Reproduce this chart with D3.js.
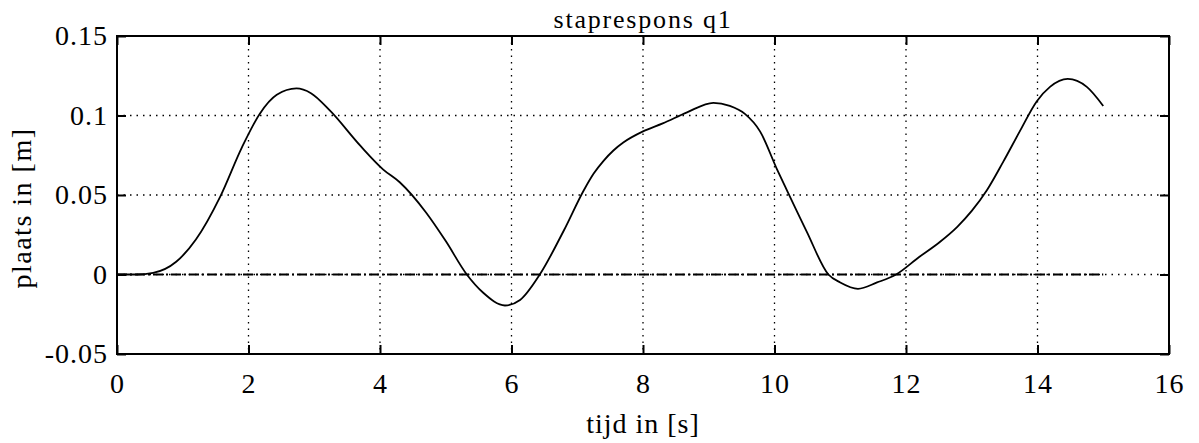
<!DOCTYPE html>
<html>
<head>
<meta charset="utf-8">
<script src="https://cdn.jsdelivr.net/npm/d3@7"></script>
<style>
  body { margin: 0; background: #fff; }
</style>
</head>
<body>
<div id="chart"></div>
<script>
const width = 1199
const height = 443
const serif = "Liberation Serif"

// data
const time = [0, 0.3, 0.55, 0.9, 1.2, 1.57, 1.9, 2.17, 2.43, 2.73, 2.95, 3.24, 3.7, 4.05, 4.3, 4.7, 5.0,
  5.32, 5.57, 5.9, 6.13, 6.43, 6.8, 7.1, 7.25, 7.4, 7.55, 7.7, 8.0, 8.3, 8.67, 9.07, 9.32, 9.55, 9.78, 10.04, 10.2,
  10.49, 10.82, 11.0, 11.27, 11.56, 11.85, 12.2, 12.5, 12.78, 13.0, 13.23, 13.48, 13.73, 13.99, 14.19, 14.46, 14.75, 15.0]
const q1 = [0, 0, 0.001, 0.008, 0.022, 0.049, 0.080, 0.101, 0.113, 0.117, 0.114, 0.103, 0.081, 0.066, 0.058, 0.039, 0.021,
  0, -0.0115, -0.0195, -0.016, 0, 0.028, 0.053, 0.0635, 0.0715, 0.078, 0.083, 0.090, 0.095, 0.102, 0.108, 0.106, 0.101, 0.090, 0.066, 0.052,
  0.027, 0, -0.005, -0.009, -0.005, 0, 0.011, 0.020, 0.030, 0.040, 0.053, 0.071, 0.090, 0.109, 0.118, 0.123, 0.118, 0.106]
const xTicks = [0, 2, 4, 6, 8, 10, 12, 14, 16]
const yTicks = [-0.05, 0, 0.05, 0.1, 0.15]
const yTickLabels = ["-0.05", "0", "0.05", "0.1", "0.15"]

const margin = {top: 36, right: 30, bottom: 89, left: 117}
const w = width - margin.left - margin.right
const h = height - margin.top - margin.bottom

const x = d3.scaleLinear().domain([0, 16]).range([0, w])
const y = d3.scaleLinear().domain([-0.05, 0.15]).range([h, 0])

const svg = d3.select("#chart")
              .append("svg")
              .attr("width", width)
              .attr("height", height)

const g = svg.append("g")
             .attr("transform", `translate(${margin.left},${margin.top})`)

// grid (dotted)
g.append("g")
 .selectAll("line")
 .data(xTicks.slice(1, -1))
 .enter()
 .append("line")
 .attr("x1", d => x(d)).attr("x2", d => x(d))
 .attr("y1", 0).attr("y2", h)
 .attr("stroke", "#000")
 .attr("stroke-width", 1.3)
 .attr("stroke-dasharray", "1.5,5")

g.append("g")
 .selectAll("line")
 .data(yTicks.slice(1, -1))
 .enter()
 .append("line")
 .attr("x1", 0).attr("x2", w)
 .attr("y1", d => y(d)).attr("y2", d => y(d))
 .attr("stroke", "#000")
 .attr("stroke-width", 1.3)
 .attr("stroke-dasharray", "1.5,5")

// zero reference line (dash-dot) over the simulated span
g.append("line")
 .attr("x1", x(time[0])).attr("x2", x(time[time.length - 1]))
 .attr("y1", y(0)).attr("y2", y(0))
 .attr("stroke", "#000")
 .attr("stroke-width", 1.8)
 .attr("stroke-dasharray", "10,3,2,3")

// axes with inward ticks on all sides
const tickLen = 9
g.append("g")
 .attr("transform", `translate(0,${h})`)
 .call(d3.axisBottom(x).tickValues(xTicks).tickSize(-tickLen).tickPadding(19))
 .call(a => a.select(".domain").remove())

g.append("g")
 .call(d3.axisTop(x).tickValues(xTicks).tickSize(-tickLen).tickFormat(""))
 .call(a => a.select(".domain").remove())

g.append("g")
 .call(d3.axisLeft(y).tickValues(yTicks).tickSize(-tickLen).tickPadding(9)
         .tickFormat((d, i) => yTickLabels[i]))
 .call(a => a.select(".domain").remove())

g.append("g")
 .attr("transform", `translate(${w},0)`)
 .call(d3.axisRight(y).tickValues(yTicks).tickSize(-tickLen).tickFormat(""))
 .call(a => a.select(".domain").remove())

g.selectAll(".tick line").attr("stroke", "#000").attr("stroke-width", 2)
g.selectAll(".tick text")
 .style("font-family", serif)
 .style("font-size", "28px")
 .style("letter-spacing", "1px")
 .attr("fill", "#000")

// frame
g.append("rect")
 .attr("width", w).attr("height", h)
 .attr("fill", "none")
 .attr("stroke", "#000")
 .attr("stroke-width", 2)

// response curve
const line = d3.line()
               .x((d, i) => x(time[i]))
               .y(d => y(d))
               .curve(d3.curveMonotoneX)

g.append("path")
 .datum(q1)
 .attr("d", line)
 .attr("fill", "none")
 .attr("stroke", "#000")
 .attr("stroke-width", 1.8)

// labels
svg.append("text")
   .attr("x", margin.left + w / 2)
   .attr("y", 28)
   .attr("text-anchor", "middle")
   .style("font-family", serif)
   .style("font-size", "26px")
   .style("letter-spacing", "1.8px")
   .text("staprespons q1")

svg.append("text")
   .attr("x", margin.left + w / 2)
   .attr("y", 433)
   .attr("text-anchor", "middle")
   .style("font-family", serif)
   .style("font-size", "28px")
   .style("letter-spacing", "1px")
   .text("tijd in [s]")

svg.append("text")
   .attr("transform", `translate(31,208) rotate(-90)`)
   .attr("text-anchor", "middle")
   .style("font-family", serif)
   .style("font-size", "28px")
   .style("letter-spacing", "1.5px")
   .text("plaats in [m]")
</script>
</body>
</html>
